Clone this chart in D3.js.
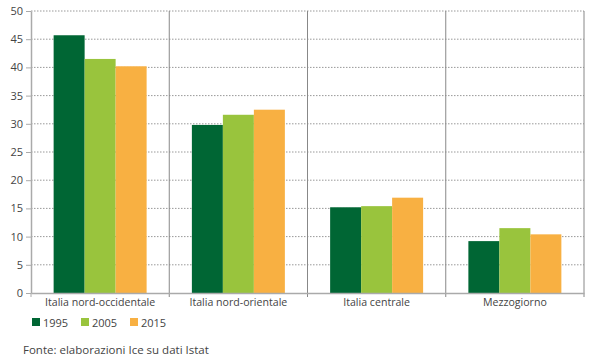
<!DOCTYPE html>
<html><head><meta charset="utf-8">
<script src="https://cdn.jsdelivr.net/npm/d3@7"></script>
<style>body{margin:0;background:#fff}svg{display:block}text{font-family:"Open Sans",sans-serif;fill:#444}</style>
</head><body><svg id="c" width="600" height="359"></svg>
<script>
const categories = ["Italia nord-occidentale","Italia nord-orientale","Italia centrale","Mezzogiorno"];
const years = ["1995","2005","2015"];
const v1995 = [45.7, 29.8, 15.2, 9.2];
const v2005 = [41.5, 31.6, 15.4, 11.5];
const v2015 = [40.2, 32.5, 16.9, 10.4];
const yTicks = [0,5,10,15,20,25,30,35,40,45,50];
const colors = ["#006634","#99c43d","#f8b042"];
const series = [v1995, v2005, v2015];

const svg = d3.select("#c");
const m = {l:31, r:584, t:11, b:293};
const x0 = d3.scaleBand().domain(categories).range([m.l, m.r]).paddingInner(0).paddingOuter(0);
const x1 = d3.scaleBand().domain(years).range([0, x0.bandwidth()]).paddingInner(0).paddingOuter(0.73);
const y = d3.scaleLinear().domain([0,50]).range([m.b, m.t]);

// gridlines
svg.append("g").selectAll("line").data(yTicks.filter(d=>d>0)).join("line")
  .attr("x1", m.l).attr("x2", m.r).attr("y1", d=>y(d)).attr("y2", d=>y(d))
  .attr("stroke", "#999").attr("stroke-width", 1).attr("stroke-dasharray", "1.5,1.5");

// group separators
const seps = categories.map(c=>x0(c)).concat([m.r]);
svg.append("g").selectAll("line").data(seps.slice(1)).join("line")
  .attr("x1", d=>d).attr("x2", d=>d).attr("y1", m.t).attr("y2", m.b+4)
  .attr("stroke", "#888").attr("stroke-width", 1);

// bars
const g = svg.append("g");
categories.forEach((c,i)=>{
  years.forEach((yr,j)=>{
    g.append("rect").attr("x", x0(c)+x1(yr)).attr("width", x1.bandwidth())
      .attr("y", y(series[j][i])).attr("height", y(0)-y(series[j][i]))
      .attr("fill", colors[j]);
  });
});

// y axis
const ya = d3.axisLeft(y).tickValues(yTicks).tickSize(5).tickSizeOuter(0);
const yg = svg.append("g").attr("transform", `translate(${m.l},0)`).call(ya);
yg.select(".domain").attr("stroke","#aaa").attr("stroke-width",1.5);
yg.selectAll(".tick line").attr("stroke","#aaa");
yg.selectAll("text").style("font-size","11px").attr("x",-8);

// x axis
const xg = svg.append("g").attr("transform", `translate(0,${m.b})`).call(d3.axisBottom(x0).tickSize(0).tickSizeOuter(0));
xg.select(".domain").attr("stroke","#aaa").attr("stroke-width",1.5);
xg.selectAll("text").style("font-size","10.6px").attr("dy","0.95em");
xg.append("line").attr("x1",m.l).attr("x2",m.l).attr("y1",0).attr("y2",4).attr("stroke","#aaa");

// legend
const lx = [32, 81, 130];
const lg = svg.append("g");
years.forEach((yr,j)=>{
  lg.append("rect").attr("x", lx[j]).attr("y", 318).attr("width", 8).attr("height", 8).attr("fill", colors[j]);
  lg.append("text").attr("x", lx[j]+11).attr("y", 326.5).text(yr).style("font-size","11px");
});

svg.append("text").attr("x", 23).attr("y", 354).text("Fonte: elaborazioni Ice su dati Istat").style("font-size","11.5px");
</script></body></html>
